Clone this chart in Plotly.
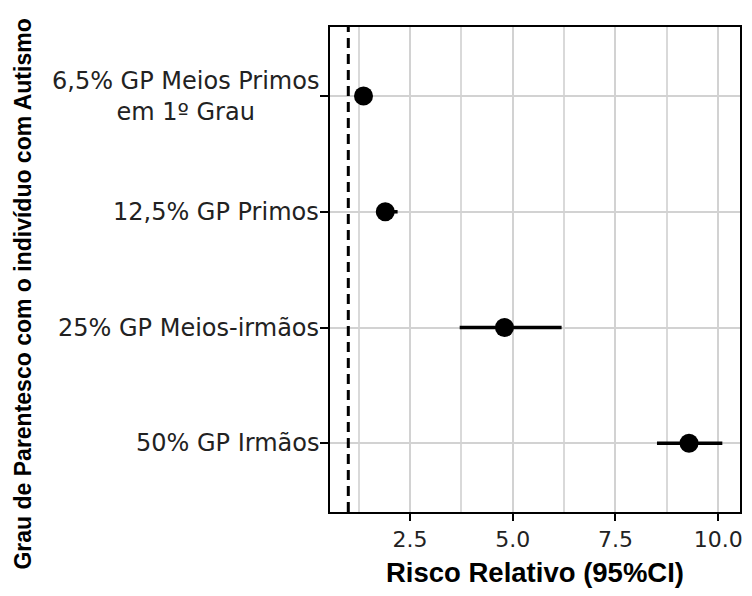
import plotly.graph_objects as go

# Data (bottom to top)
categories = ["50% GP Irmãos", "25% GP Meios-irmãos", "12,5% GP Primos",
              "6,5% GP Meios Primos<br>em 1º Grau"]
estimate = [9.29, 4.80, 1.90, 1.37]
lower = [8.51, 3.71, 1.68, 1.22]
upper = [10.10, 6.19, 2.20, 1.55]
x_ticks = [2.5, 5.0, 7.5, 10.0]
x_tick_labels = ["2.5", "5.0", "7.5", "10.0"]
x_minor = [1.25, 3.75, 6.25, 8.75]
reference_value = 1.0
x_title = "Risco Relativo (95%CI)"
y_title = "Grau de Parentesco com o indivíduo com Autismo"

err_plus = [u - e for u, e in zip(upper, estimate)]
err_minus = [e - l for e, l in zip(estimate, lower)]

fig = go.Figure()
fig.add_trace(go.Scatter(
    x=estimate, y=categories, mode="markers",
    marker=dict(color="black", size=19),
    error_x=dict(type="data", array=err_plus, arrayminus=err_minus,
                 color="black", thickness=3.5, width=0),
    showlegend=False,
))

fig.add_shape(type="line", xref="x", yref="paper",
              x0=reference_value, x1=reference_value, y0=0, y1=1,
              line=dict(color="black", width=3, dash="10px,6px"), layer="above")

tick_font = dict(family="DejaVu Sans", size=24, color="#222222")
for c in categories:
    fig.add_annotation(text=c, xref="paper", yref="y", x=0, y=c,
                       xanchor="right", yanchor="middle", align="center",
                       xshift=-9, showarrow=False, font=tick_font)

fig.add_annotation(text="<b>" + y_title + "</b>", xref="paper", yref="paper",
                   x=-0.748, y=0.449, xanchor="center", yanchor="middle",
                   textangle=-90, showarrow=False,
                   font=dict(family="Liberation Sans", size=23, color="black"))

fig.update_layout(
    width=736, height=580,
    margin=dict(l=322, r=1, t=19, b=76),
    paper_bgcolor="white", plot_bgcolor="white",
    xaxis=dict(
        range=[0.555, 10.53],
        tickmode="array", tickvals=x_ticks, ticktext=x_tick_labels,
        ticks="outside", ticklen=7, tickwidth=2, tickcolor="black",
        tickfont=dict(family="DejaVu Sans", size=22, color="#222222"),
        ticklabeloverflow="allow",
        showgrid=True, gridcolor="#d2d2d2", gridwidth=2,
        minor=dict(tickmode="array", tickvals=x_minor, showgrid=True,
                   gridcolor="#d9d9d9", gridwidth=1.5, ticks=""),
        showline=True, linecolor="black", linewidth=1.5, mirror=True,
        zeroline=False,
        title=dict(text="<b>" + x_title + "</b>", standoff=14,
                   font=dict(family="Liberation Sans", size=27.5, color="black")),
    ),
    yaxis=dict(
        type="category", categoryorder="array", categoryarray=categories,
        range=[-0.593, 3.596],
        showticklabels=False,
        ticks="outside", ticklen=8, tickwidth=2, tickcolor="black",
        showgrid=True, gridcolor="#d2d2d2", gridwidth=2,
        showline=True, linecolor="black", linewidth=1.5, mirror=True,
        zeroline=False,
    ),
)

fig.write_html("out.html")
